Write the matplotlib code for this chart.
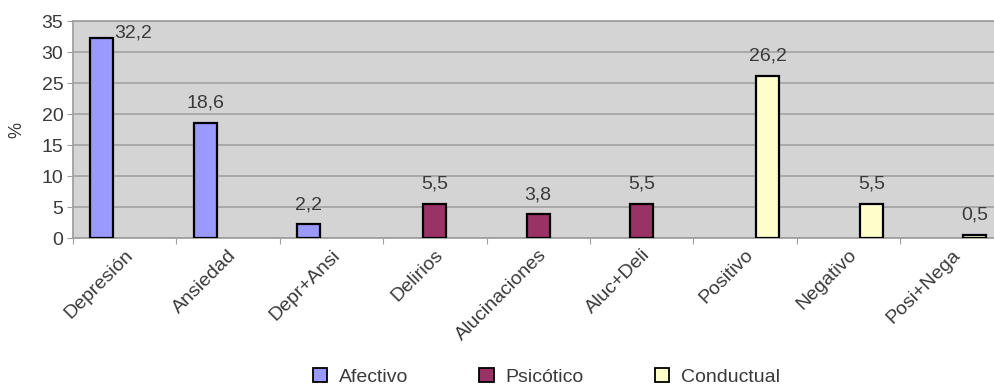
import numpy as np
import matplotlib
matplotlib.use('Agg')
from matplotlib import pyplot as plt
from matplotlib.patches import Patch

plt.rcParams['font.family'] = ['Liberation Sans', 'DejaVu Sans']

categories = ['Depresión', 'Ansiedad', 'Depr+Ansi', 'Delirios', 'Alucinaciones',
              'Aluc+Deli', 'Positivo', 'Negativo', 'Posi+Nega']
series = ['Afectivo', 'Psicótico', 'Conductual']
colors = ['#9999FF', '#993366', '#FFFFCC']
# one value per category, each category belongs to one series
values = [32.2, 18.6, 2.2, 5.5, 3.8, 5.5, 26.2, 5.5, 0.5]
series_idx = [0, 0, 0, 1, 1, 1, 2, 2, 2]

text_col = '#3a3a3a'
fs = 14
fig = plt.figure(figsize=(9.95, 3.87), dpi=100)
ax = fig.add_axes([0.0734, 0.385, 0.935, 0.5607])
ax.set_facecolor('#D4D4D4')

x = np.arange(len(categories))
w = 0.222
for s, (name, col) in enumerate(zip(series, colors)):
    xs = [xi + (s - 1) * w for xi, si in zip(x, series_idx) if si == s]
    vals = [v for v, si in zip(values, series_idx) if si == s]
    ax.bar(xs, vals, width=w, color=col, edgecolor='black',
           linewidth=1.6, zorder=3)

ymax = 35
for xi, v, si in zip(x, values, series_idx):
    bx = xi + (si - 1) * w
    txt = f'{v:.1f}'.replace('.', ',')
    if v + 3.5 > ymax:
        ax.annotate(txt, (bx + w / 2, v), xytext=(1, -2),
                    textcoords='offset points', ha='left', va='bottom',
                    fontsize=fs, color=text_col)
    else:
        ax.annotate(txt, (bx, v), xytext=(0, 8),
                    textcoords='offset points', ha='center', va='bottom',
                    fontsize=fs, color=text_col)

ax.set_xlim(-0.5, len(categories) - 0.5)
ax.set_ylim(0, ymax)
ax.set_yticks(np.arange(0, 36, 5))
ax.yaxis.grid(True, color='#A6A6A6', linewidth=1.3, zorder=0)
ax.set_axisbelow(True)

ax.set_xticks(np.arange(len(categories) + 1) - 0.5, minor=False)
ax.set_xticklabels([])
ax.set_xticks(x, minor=True)
ax.set_xticklabels(categories, minor=True, rotation=45, ha='right',
                   rotation_mode='anchor', fontsize=fs, color=text_col)
ax.tick_params(axis='x', which='minor', length=0, pad=6)
ax.tick_params(axis='x', which='major', length=4, color='#A0A0A0', direction='out')
ax.tick_params(axis='y', length=4, color='#A0A0A0', labelsize=fs,
               labelcolor=text_col, pad=3)

for side in ['left', 'bottom', 'top', 'right']:
    ax.spines[side].set_color('#A0A0A0')
    ax.spines[side].set_linewidth(1.3)

ax.set_ylabel('%', fontsize=fs - 1, color=text_col, labelpad=12)

handles = [Patch(facecolor=c, edgecolor='black', linewidth=1.3, label=n)
           for n, c in zip(series, colors)]
fig.legend(handles=handles, loc='center', bbox_to_anchor=(0.549, 0.026), ncol=3,
           frameon=False, fontsize=fs, handlelength=0.75, handleheight=0.75,
           columnspacing=3.65, handletextpad=0.6, labelcolor=text_col)

fig.savefig('out.png', dpi=100)
plt.close(fig)
